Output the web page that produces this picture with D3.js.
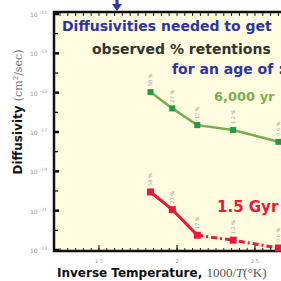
<!DOCTYPE html>
<html lang="en">
<head>
<meta charset="UTF-8">
<title>Diffusivities needed</title>
<script src="https://d3js.org/d3.v7.min.js"></script>
<style>
    body { margin: 0; padding: 0; background: #fff; overflow: hidden; }
    svg { display: block; }
    .bold { font-family: "DejaVu Sans", Verdana, sans-serif; font-weight: bold; }
    .tiny { font-family: "DejaVu Sans", sans-serif; fill: #9a9a9a; }
</style>
</head>
<body>
<svg id="chart" width="281" height="281"></svg>
<script>
// data
const invTemp = [1.83, 1.97, 2.13, 2.36, 2.65];
const logD6000yr = [-14.97, -15.8, -16.65, -16.9, -17.5];
const logD15Gyr = [-20.05, -20.95, -22.25, -22.5, -22.9];
const retention = ["58 %", "27 %", "17 %", "1.2 %", "0.6 %"];
const yTickExp = [-11, -13, -15, -17, -19, -21, -23];
const xTickVals = [1.5, 2, 2.5];

const svg = d3.select("#chart");
const pLeft = 54, pTop = 12, pBottom = 251, pRight = 300;

const x = d3.scaleLinear().domain([1.5, 2]).range([99, 177]);
const y = d3.scaleLinear().domain([-11, -23]).range([pTop + 2, pBottom - 1]);

// plot background
svg.append("rect")
    .attr("x", pLeft).attr("y", pTop)
    .attr("width", pRight - pLeft).attr("height", pBottom - pTop)
    .attr("fill", "#fffce0");

// minor ticks along top and bottom
const xMinor = d3.range(1.25, 2.75, 0.05);
svg.append("g").selectAll("line").data(xMinor).join("line")
    .attr("x1", d => x(d)).attr("x2", d => x(d))
    .attr("y1", pTop).attr("y2", pTop + 4)
    .attr("stroke", "#222").attr("stroke-width", 1);
svg.append("g").selectAll("line").data(xMinor).join("line")
    .attr("x1", d => x(d)).attr("x2", d => x(d))
    .attr("y1", pBottom).attr("y2", pBottom - 3)
    .attr("stroke", "#222").attr("stroke-width", 1);
svg.append("g").selectAll("line").data(xTickVals).join("line")
    .attr("x1", d => x(d)).attr("x2", d => x(d))
    .attr("y1", pBottom).attr("y2", pBottom - 6)
    .attr("stroke", "#222").attr("stroke-width", 1.2);

// y ticks, major and minor
svg.append("g").selectAll("line").data(yTickExp).join("line")
    .attr("x1", pLeft).attr("x2", pLeft + 5)
    .attr("y1", d => y(d)).attr("y2", d => y(d))
    .attr("stroke", "#111").attr("stroke-width", 2.5);
svg.append("g").selectAll("line").data(yTickExp.slice(1).map(d => d + 1)).join("line")
    .attr("x1", pLeft).attr("x2", pLeft + 4)
    .attr("y1", d => y(d)).attr("y2", d => y(d))
    .attr("stroke", "#111").attr("stroke-width", 1.2);

// y tick labels
const yl = svg.append("g").selectAll("text").data(yTickExp).join("text")
    .attr("class", "tiny")
    .attr("x", 30).attr("y", d => y(d) + 3)
    .attr("font-size", 6);
yl.append("tspan").text("10");
yl.append("tspan").attr("dx", 2).attr("dy", -3).attr("font-size", 4.5).text(d => d);

// x tick labels
svg.append("g").selectAll("text").data(xTickVals).join("text")
    .attr("class", "tiny")
    .attr("x", d => x(d)).attr("y", 263)
    .attr("text-anchor", "middle").attr("font-size", 5)
    .text(d => d);

// frame
svg.append("path")
    .attr("d", `M${pRight},${pTop}H${pLeft}V${pBottom}H${pRight}`)
    .attr("fill", "none").attr("stroke", "#111").attr("stroke-width", 2.5);

// arrow at the top
svg.append("line")
    .attr("x1", 117).attr("x2", 117).attr("y1", 0).attr("y2", 6)
    .attr("stroke", "#2b3aa0").attr("stroke-width", 3);
svg.append("path")
    .attr("d", "M112,4L122,4L117,11Z")
    .attr("fill", "#2b3aa0");

// annotation text
svg.append("text").attr("class", "bold")
    .attr("x", 62).attr("y", 31).attr("font-size", 14)
    .attr("fill", "#2e35a0").text("Diffusivities needed to get");
svg.append("text").attr("class", "bold")
    .attr("x", 92).attr("y", 54).attr("font-size", 14)
    .attr("fill", "#333").text("observed % retentions");
svg.append("text").attr("class", "bold")
    .attr("x", 172).attr("y", 74).attr("font-size", 14)
    .attr("fill", "#2e35a0").text("for an age of :");

// series
const series = [
    { name: "6,000 yr", vals: logD6000yr, line: "#76b04e", mark: "#1f9a44", lw: 2.5, size: 6,
      lx: 214, ly: 101, fs: 13 },
    { name: "1.5 Gyr", vals: logD15Gyr, line: "#ee1535", mark: "#ee1535", lw: 3, size: 7,
      lx: 217, ly: 212, fs: 15 }
];

series.forEach(s => {
    const pts = invTemp.map((t, i) => [x(t), y(s.vals[i])]);
    const line = d3.line();
    if (s.name === "1.5 Gyr") {
        svg.append("path").attr("d", line(pts.slice(0, 3)))
            .attr("fill", "none").attr("stroke", s.line).attr("stroke-width", s.lw);
        svg.append("path").attr("d", line(pts.slice(2)))
            .attr("fill", "none").attr("stroke", s.line).attr("stroke-width", s.lw)
            .attr("stroke-dasharray", "6,3,2,3");
    } else {
        svg.append("path").attr("d", line(pts))
            .attr("fill", "none").attr("stroke", s.line).attr("stroke-width", s.lw);
    }
    svg.append("g").selectAll("rect").data(pts).join("rect")
        .attr("x", d => d[0] - s.size / 2).attr("y", d => d[1] - s.size / 2)
        .attr("width", s.size).attr("height", s.size)
        .attr("fill", s.mark);
    svg.append("g").selectAll("text").data(pts).join("text")
        .attr("class", "tiny")
        .attr("font-size", 5)
        .attr("transform", d => `translate(${d[0] + 2},${d[1] - 6}) rotate(-90)`)
        .text((d, i) => retention[i]);
    svg.append("text").attr("class", "bold")
        .attr("x", s.lx).attr("y", s.ly).attr("font-size", s.fs)
        .attr("fill", s.line).text(s.name);
});

// y axis title
const yt = svg.append("text")
    .attr("transform", "translate(22,112) rotate(-90)")
    .attr("text-anchor", "middle");
yt.append("tspan").attr("class", "bold").attr("font-size", 12).attr("fill", "#111").text("Diffusivity ");
yt.append("tspan").attr("font-family", "'DejaVu Serif', serif").attr("font-size", 11).attr("fill", "#777").text("(cm");
yt.append("tspan").attr("font-family", "'DejaVu Serif', serif").attr("font-size", 7).attr("dy", -4).attr("fill", "#777").text("2");
yt.append("tspan").attr("font-family", "'DejaVu Serif', serif").attr("font-size", 11).attr("dy", 4).attr("fill", "#777").text("/sec)");

// x axis title
const xt = svg.append("text").attr("x", 57).attr("y", 277);
xt.append("tspan").attr("class", "bold").attr("font-size", 12).attr("fill", "#111").text("Inverse Temperature, ");
xt.append("tspan").attr("font-family", "'Liberation Serif', serif").attr("font-size", 13).attr("fill", "#555").text("1000/");
xt.append("tspan").attr("font-family", "'Liberation Serif', serif").attr("font-style", "italic").attr("font-size", 13).attr("fill", "#555").text("T");
xt.append("tspan").attr("font-family", "'Liberation Serif', serif").attr("font-size", 13).attr("fill", "#555").text("(°K)");
</script>
</body>
</html>
